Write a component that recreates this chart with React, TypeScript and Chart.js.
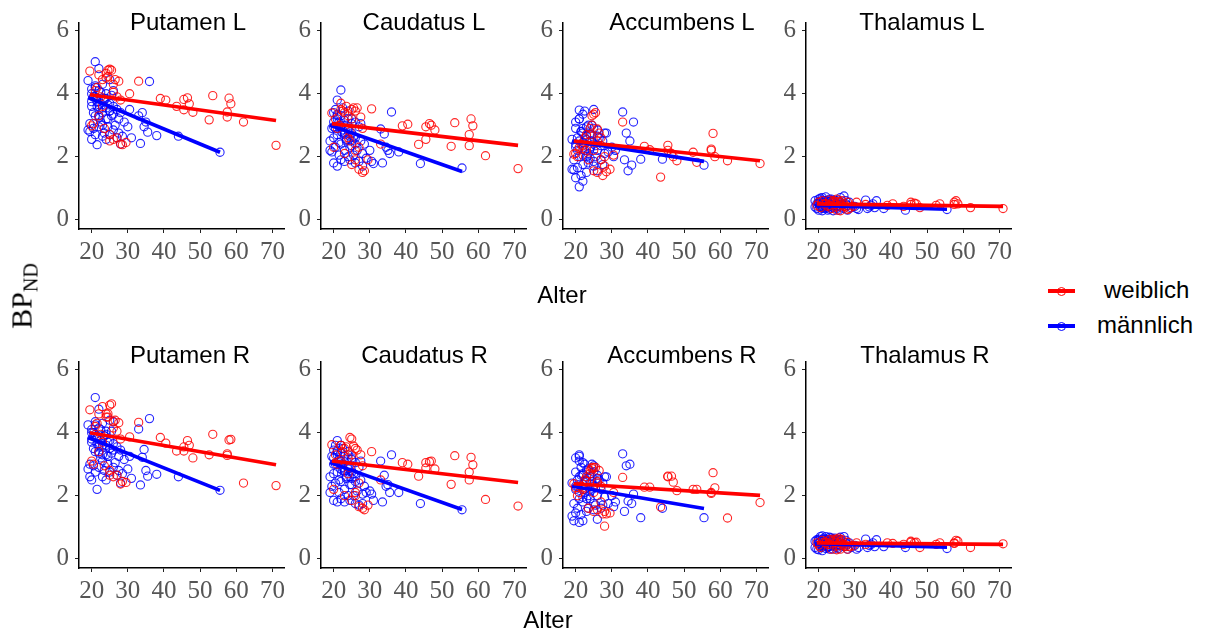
import React, { useEffect, useRef } from "react";
import { Chart, registerables } from "chart.js";

Chart.register(...registerables);

// ---------------- data ----------------
const regions = [
  "Putamen L", "Caudatus L", "Accumbens L", "Thalamus L",
  "Putamen R", "Caudatus R", "Accumbens R", "Thalamus R",
];
const seriesNames = ["weiblich", "männlich"];
const xTickValues = [20, 30, 40, 50, 60, 70];
const yTickValues = [0, 2, 4, 6];
const xLabel = "Alter";

const femaleAge = [
  19.5, 20, 20.5, 21, 22, 22.5, 23, 23.5, 24, 24.5,
  25, 25, 25.5, 26, 26, 26.5, 27, 27.5, 28, 28,
  28.5, 29.5, 30.5, 33, 39, 40.5, 43.5, 45.5, 45.5, 46.5,
  47, 48, 52.5, 53.5, 57.5, 57.5, 58, 58.5, 62, 71,
  21.5, 23, 24, 25, 26, 27, 22, 24.5,
];
const maleAge = [
  19, 19, 19.5, 19.5, 20, 20, 20, 20.5, 20.5, 21,
  21, 21, 21, 21.5, 21.5, 22, 22, 22, 22, 22.5,
  22.5, 23, 23, 23, 23.5, 23.5, 24, 24, 24, 24.5,
  24.5, 25, 25, 25, 25.5, 26, 26, 26, 26.5, 27,
  27, 27.5, 27.5, 28, 28, 28.5, 29, 30, 30.5, 31,
  33, 33.5, 34, 34.5, 35, 35.5, 36, 38, 44, 55.5,
  20, 20.5, 21, 21.5, 22, 22.5, 23, 23.5, 24, 24.5,
  25, 25.5, 26, 21, 22, 23, 24, 25, 20, 22,
];

const putamenLFemale = [
  4.72, 2.98, 3.05, 4.1, 4.6, 3.9, 4.45, 2.9, 4.5, 4.75,
  4.78, 2.5, 4.75, 4.3, 2.55, 4.45, 3.9, 4.4, 2.4, 3.8,
  2.38, 2.45, 4.0, 4.4, 3.85, 3.8, 3.6, 3.82, 3.49, 3.87,
  3.68, 3.41, 3.17, 3.94, 3.42, 3.26, 3.86, 3.68, 3.1, 2.36,
  4.2, 3.6, 4.65, 2.7, 4.05, 2.6, 3.3, 4.55,
];
const putamenLMale = [
  2.85, 4.42, 3.05, 2.8, 3.75, 2.55, 4.15, 3.4, 2.9, 5.02,
  3.9, 2.7, 4.25, 3.6, 2.38, 4.8, 3.3, 4.1, 2.95, 3.7,
  3.1, 4.3, 2.65, 3.55, 3.85, 2.75, 4.0, 3.2, 2.55, 3.65,
  2.95, 4.45, 3.45, 2.7, 3.3, 4.1, 2.85, 3.6, 3.0, 3.5,
  2.6, 3.2, 2.75, 3.4, 2.4, 2.65, 3.1, 2.95, 3.5, 2.6,
  3.3, 2.42, 3.4, 2.95, 3.1, 2.78, 4.39, 2.67, 2.65, 2.14,
  3.6, 3.9, 3.3, 3.75, 3.5, 4.05, 3.4, 3.8, 3.55, 3.2,
  3.7, 3.95, 3.35, 4.2, 3.65, 3.0, 3.85, 3.45, 4.0, 3.25,
];
const caudatusLFemale = [
  3.39, 2.3, 3.2, 2.9, 3.7, 3.45, 2.1, 3.6, 3.3, 2.5,
  3.5, 1.75, 3.55, 3.45, 2.2, 3.55, 1.6, 3.26, 1.5, 2.9,
  1.55, 1.9, 3.52, 2.4, 2.98, 3.03, 2.39, 2.55, 2.95, 3.05,
  3.0, 2.85, 2.33, 3.08, 2.7, 2.35, 3.2, 2.98, 2.03, 1.62,
  3.0, 3.4, 2.6, 3.2, 1.9, 2.3, 3.5, 2.8,
];
const caudatusLMale = [
  2.2, 2.5, 2.9, 2.15, 3.4, 1.8, 2.95, 3.5, 2.3, 3.2,
  1.7, 2.7, 3.8, 2.05, 3.1, 4.12, 2.4, 3.3, 1.9, 2.85,
  3.55, 2.2, 2.75, 1.85, 3.0, 2.5, 3.45, 2.0, 2.9, 2.65,
  1.9, 3.2, 2.35, 2.75, 2.05, 3.1, 1.8, 2.6, 2.2, 2.95,
  1.85, 2.5, 3.05, 2.1, 1.7, 2.4, 1.95, 2.2, 1.85, 1.78,
  2.88, 1.8, 2.72, 2.3, 2.2, 2.1, 3.42, 2.15, 1.78, 1.64,
  2.6, 2.9, 3.3, 2.45, 3.0, 2.75, 3.15, 2.55, 2.85, 2.3,
  3.05, 2.65, 2.4, 3.35, 2.95, 2.7, 3.2, 2.5, 3.1, 2.8,
];
const accumbensLFemale = [
  2.08, 2.1, 2.0, 2.3, 2.25, 2.6, 2.2, 1.9, 2.7, 3.3,
  3.35, 1.55, 3.4, 2.88, 1.5, 2.75, 2.6, 1.4, 2.0, 1.7,
  1.52, 1.6, 2.05, 3.1, 2.33, 2.22, 1.35, 2.36, 2.2, 2.1,
  2.0, 1.87, 2.14, 1.82, 2.2, 2.24, 2.74, 2.0, 1.87, 1.78,
  2.4, 2.7, 2.9, 2.2, 2.5, 1.9, 2.35, 3.0,
];
const accumbensLMale = [
  1.6, 2.55, 1.58, 1.9, 2.9, 1.33, 3.1, 2.2, 1.65, 3.48,
  2.5, 1.04, 3.2, 1.4, 2.8, 3.35, 1.75, 2.9, 1.22, 2.4,
  3.45, 2.0, 1.5, 2.65, 3.0, 1.8, 2.3, 2.7, 1.95, 2.5,
  3.0, 1.7, 3.5, 2.4, 2.0, 2.85, 1.55, 2.2, 2.6, 2.35,
  1.9, 2.5, 1.75, 2.75, 2.1, 2.75, 2.15, 2.3, 2.0, 2.2,
  3.42, 1.9, 2.75, 1.55, 2.5, 1.73, 3.1, 1.92, 1.92, 1.73,
  2.3, 2.6, 2.0, 2.8, 2.45, 2.2, 2.95, 2.1, 2.5, 2.7,
  1.85, 2.35, 2.65, 3.2, 2.05, 2.55, 2.25, 2.9, 2.4, 2.75,
];
const thalamusLFemale = [
  0.45, 0.55, 0.38, 0.6, 0.5, 0.42, 0.62, 0.35, 0.55, 0.48,
  0.65, 0.3, 0.58, 0.45, 0.28, 0.6, 0.5, 0.4, 0.32, 0.55,
  0.35, 0.42, 0.55, 0.48, 0.45, 0.5, 0.42, 0.55, 0.48, 0.52,
  0.5, 0.38, 0.45, 0.5, 0.55, 0.48, 0.6, 0.5, 0.38, 0.35,
  0.5, 0.45, 0.6, 0.4, 0.55, 0.42, 0.5, 0.58,
];
const thalamusLMale = [
  0.4, 0.6, 0.35, 0.5, 0.65, 0.3, 0.55, 0.68, 0.42, 0.7,
  0.38, 0.62, 0.28, 0.55, 0.45, 0.72, 0.35, 0.6, 0.5, 0.3,
  0.58, 0.42, 0.65, 0.33, 0.5, 0.6, 0.38, 0.55, 0.28, 0.45,
  0.62, 0.35, 0.5, 0.42, 0.3, 0.55, 0.7, 0.4, 0.48, 0.75,
  0.35, 0.5, 0.6, 0.3, 0.45, 0.55, 0.38, 0.42, 0.35, 0.32,
  0.62, 0.35, 0.4, 0.45, 0.5, 0.38, 0.6, 0.35, 0.3, 0.32,
  0.5, 0.55, 0.42, 0.6, 0.48, 0.38, 0.52, 0.65, 0.45, 0.58,
  0.4, 0.62, 0.5, 0.35, 0.55, 0.47, 0.6, 0.44, 0.52, 0.4,
];
const putamenRFemale = [
  4.73, 3.1, 3.0, 4.2, 4.6, 3.95, 4.83, 2.95, 4.5, 4.6,
  4.88, 2.65, 4.92, 4.35, 2.6, 4.4, 4.05, 4.32, 2.37, 3.8,
  2.45, 2.42, 3.87, 4.33, 3.85, 3.67, 3.42, 3.42, 3.55, 3.75,
  3.6, 3.2, 3.3, 3.95, 3.28, 3.33, 3.77, 3.79, 2.4, 2.32,
  4.3, 3.7, 4.6, 2.8, 4.15, 2.65, 3.4, 4.5,
];
const putamenRMale = [
  2.85, 4.25, 3.0, 2.6, 3.8, 2.5, 4.1, 3.5, 2.95, 5.12,
  3.95, 2.75, 4.35, 3.65, 2.2, 4.75, 3.4, 4.15, 2.9, 3.75,
  3.2, 4.3, 2.6, 3.6, 3.9, 2.8, 4.05, 3.3, 2.5, 3.7,
  3.0, 4.4, 3.5, 2.75, 3.35, 4.35, 2.9, 3.65, 3.05, 3.55,
  2.65, 3.25, 2.8, 3.45, 2.4, 2.7, 3.15, 2.85, 3.25, 2.55,
  4.12, 2.34, 3.22, 3.47, 2.8, 2.62, 4.45, 2.68, 2.6, 2.17,
  3.7, 4.0, 3.4, 3.85, 3.55, 4.1, 3.3, 3.9, 3.6, 3.25,
  3.75, 4.05, 3.45, 4.25, 3.65, 3.1, 3.95, 3.5, 4.0, 3.35,
];
const caudatusRFemale = [
  3.62, 2.2, 3.3, 3.0, 3.6, 3.4, 2.0, 3.55, 3.2, 3.85,
  3.8, 1.85, 3.58, 3.5, 2.1, 3.45, 1.65, 3.3, 1.6, 2.95,
  1.55, 1.7, 3.4, 2.5, 3.05, 3.0, 2.62, 2.88, 3.05, 3.08,
  3.1, 2.85, 2.36, 3.27, 2.75, 2.5, 3.22, 2.98, 1.88, 1.67,
  3.1, 3.5, 2.7, 3.3, 2.0, 2.4, 3.6, 2.9,
];
const caudatusRMale = [
  2.1, 2.6, 3.25, 2.3, 3.45, 1.85, 3.0, 3.6, 2.4, 3.3,
  1.8, 2.75, 3.75, 2.1, 3.15, 3.6, 2.45, 3.35, 1.9, 2.9,
  3.5, 2.2, 2.8, 1.8, 3.1, 2.55, 3.4, 2.0, 2.85, 2.6,
  1.85, 3.2, 2.35, 2.75, 2.0, 3.05, 1.75, 2.6, 2.15, 2.9,
  1.7, 2.5, 3.1, 2.05, 1.75, 2.3, 2.1, 2.15, 2.05, 1.85,
  3.1, 1.8, 2.65, 2.3, 2.35, 2.1, 3.3, 2.1, 1.75, 1.55,
  2.7, 3.0, 3.4, 2.5, 3.1, 2.8, 3.25, 2.6, 2.9, 2.35,
  3.15, 2.7, 2.45, 3.45, 3.0, 2.75, 3.3, 2.55, 3.2, 2.85,
];
const accumbensRFemale = [
  2.38, 2.25, 2.0, 2.1, 2.2, 2.5, 2.45, 1.6, 2.7, 2.86,
  2.9, 1.5, 2.9, 2.45, 1.55, 2.8, 2.3, 1.42, 1.03, 1.5,
  1.42, 1.45, 2.1, 2.58, 2.27, 2.27, 1.64, 2.6, 2.62, 2.62,
  2.43, 2.16, 2.2, 2.2, 2.07, 2.1, 2.73, 2.25, 1.29, 1.78,
  2.3, 2.6, 2.8, 2.1, 2.4, 1.8, 2.25, 2.9,
];
const accumbensRMale = [
  1.35, 2.4, 1.2, 1.75, 2.75, 1.45, 3.2, 2.3, 1.6, 3.3,
  2.6, 1.15, 3.25, 1.4, 2.9, 3.05, 1.8, 2.7, 1.2, 2.2,
  3.0, 1.9, 1.5, 2.5, 2.85, 1.6, 2.2, 2.6, 1.9, 2.45,
  3.0, 1.55, 2.95, 2.3, 1.7, 2.65, 1.25, 2.0, 2.5, 2.2,
  1.6, 2.4, 1.7, 2.6, 1.95, 2.6, 1.75, 2.0, 1.65, 1.8,
  3.33, 1.5, 2.95, 1.83, 3.0, 1.75, 2.05, 1.3, 1.6, 1.3,
  2.2, 2.5, 1.9, 2.65, 2.35, 2.1, 2.8, 2.0, 2.4, 2.6,
  1.75, 2.25, 2.55, 3.1, 1.95, 2.45, 2.15, 2.75, 2.3, 2.65,
];
const thalamusRFemale = [
  0.5, 0.42, 0.35, 0.58, 0.52, 0.45, 0.6, 0.3, 0.55, 0.5,
  0.62, 0.28, 0.65, 0.48, 0.3, 0.6, 0.45, 0.38, 0.3, 0.52,
  0.38, 0.4, 0.5, 0.45, 0.5, 0.48, 0.45, 0.52, 0.55, 0.5,
  0.52, 0.35, 0.45, 0.5, 0.5, 0.48, 0.58, 0.55, 0.35, 0.47,
  0.52, 0.45, 0.62, 0.4, 0.55, 0.4, 0.5, 0.6,
];
const thalamusRMale = [
  0.35, 0.55, 0.3, 0.6, 0.62, 0.28, 0.58, 0.7, 0.4, 0.72,
  0.42, 0.6, 0.25, 0.65, 0.45, 0.7, 0.32, 0.62, 0.5, 0.35,
  0.6, 0.38, 0.68, 0.3, 0.52, 0.62, 0.4, 0.55, 0.3, 0.48,
  0.65, 0.35, 0.55, 0.4, 0.32, 0.6, 0.68, 0.42, 0.45, 0.7,
  0.38, 0.5, 0.58, 0.3, 0.45, 0.5, 0.35, 0.42, 0.3, 0.35,
  0.62, 0.35, 0.42, 0.45, 0.5, 0.38, 0.6, 0.38, 0.35, 0.32,
  0.48, 0.55, 0.4, 0.62, 0.5, 0.38, 0.55, 0.66, 0.45, 0.6,
  0.42, 0.6, 0.5, 0.36, 0.56, 0.46, 0.62, 0.44, 0.5, 0.42,
];

const femaleValues = [
  putamenLFemale, caudatusLFemale, accumbensLFemale, thalamusLFemale,
  putamenRFemale, caudatusRFemale, accumbensRFemale, thalamusRFemale,
];
const maleValues = [
  putamenLMale, caudatusLMale, accumbensLMale, thalamusLMale,
  putamenRMale, caudatusRMale, accumbensRMale, thalamusRMale,
];

// linear fit lines: value at first and last age
const femaleFitAge = [19.5, 71];
const maleFitAge = [19, 55.5];
const femaleFitStart = [3.97, 3.05, 2.5, 0.5, 4.0, 3.1, 2.38, 0.5];
const femaleFitEnd = [3.15, 2.36, 1.87, 0.42, 2.98, 2.42, 2.01, 0.45];
const maleFitStart = [3.88, 3.0, 2.5, 0.45, 3.85, 3.05, 2.3, 0.47];
const maleFitEnd = [2.14, 1.53, 1.85, 0.33, 2.17, 1.56, 1.59, 0.36];

// ---------------- layout / style ----------------
const RED = "#ff0000";
const BLUE = "#0000ff";
const AREA_LEFT = [79, 321, 563, 806];
const ROW_TOP = [23, 362];
const AREA_W = 205;
const AREA_H = 206;
const Y_AXIS_W = 40;
const X_AXIS_H = 40;
const PAD_TOP = 23;
const PAD_RIGHT = 8;
const CANVAS_W = Y_AXIS_W + AREA_W + PAD_RIGHT;
const CANVAS_H = PAD_TOP + AREA_H + X_AXIS_H;
const TITLE_CENTER = [
  [188, 424, 682, 922],
  [190, 424.5, 682, 925],
];
const TITLE_TOP = [9.7, 342.7];

const SANS = '"Liberation Sans", Arial, Helvetica, sans-serif';
const SERIF = '"Liberation Serif", "Times New Roman", serif';

function Panel({ index }: { index: number }) {
  const ref = useRef<HTMLCanvasElement | null>(null);
  const row = Math.floor(index / 4);
  const col = index % 4;

  useEffect(() => {
    if (!ref.current) return;
    const tickFont = { family: SERIF, size: 25 };
    const chart = new Chart(ref.current, {
      type: "scatter",
      data: {
        datasets: [
          {
            type: "line",
            label: seriesNames[0] + " fit",
            data: femaleFitAge.map((a, i) => ({
              x: a,
              y: i === 0 ? femaleFitStart[index] : femaleFitEnd[index],
            })),
            borderColor: RED,
            borderWidth: 3.6,
            pointRadius: 0,
            showLine: true,
            fill: false,
          } as any,
          {
            type: "line",
            label: seriesNames[1] + " fit",
            data: maleFitAge.map((a, i) => ({
              x: a,
              y: i === 0 ? maleFitStart[index] : maleFitEnd[index],
            })),
            borderColor: BLUE,
            borderWidth: 3.6,
            pointRadius: 0,
            showLine: true,
            fill: false,
          } as any,
          {
            label: seriesNames[0],
            data: femaleAge.map((a, i) => ({ x: a, y: femaleValues[index][i] })),
            pointStyle: "circle",
            pointRadius: 4.1,
            borderWidth: 1.1,
            borderColor: "rgba(255,0,0,0.85)",
            backgroundColor: "rgba(0,0,0,0)",
          },
          {
            label: seriesNames[1],
            data: maleAge.map((a, i) => ({ x: a, y: maleValues[index][i] })),
            pointStyle: "circle",
            pointRadius: 4.1,
            borderWidth: 1.1,
            borderColor: "rgba(0,0,255,0.85)",
            backgroundColor: "rgba(0,0,0,0)",
          },
        ],
      },
      options: {
        animation: false,
        responsive: false,
        events: [],
        layout: { padding: { top: PAD_TOP, right: PAD_RIGHT, left: 0, bottom: 0 } },
        plugins: {
          legend: { display: false },
          tooltip: { enabled: false },
          title: { display: false },
        },
        scales: {
          x: {
            type: "linear",
            min: 16.5,
            max: 73.2,
            afterBuildTicks: (s: any) => {
              s.ticks = xTickValues.map((v) => ({ value: v }));
            },
            afterFit: (s: any) => {
              s.height = X_AXIS_H;
              s.paddingLeft = 0;
              s.paddingRight = 0;
            },
            grid: {
              display: true,
              drawOnChartArea: false,
              drawTicks: true,
              tickLength: 4,
              color: "#222",
              lineWidth: 1,
            },
            border: { display: true, color: "#000", width: 1.5 },
            ticks: {
              font: tickFont,
              color: "#555555",
              padding: 4,
              maxRotation: 0,
              autoSkip: false,
              callback: (v: any) => String(v),
            },
          },
          y: {
            type: "linear",
            min: -0.3,
            max: 6.25,
            afterBuildTicks: (s: any) => {
              s.ticks = yTickValues.map((v) => ({ value: v }));
            },
            afterFit: (s: any) => {
              s.width = Y_AXIS_W;
              s.paddingTop = 0;
              s.paddingBottom = 0;
            },
            grid: {
              display: true,
              drawOnChartArea: false,
              drawTicks: true,
              tickLength: 4,
              color: "#222",
              lineWidth: 1,
            },
            border: { display: true, color: "#000", width: 1.5 },
            ticks: {
              font: tickFont,
              color: "#555555",
              padding: 6,
              autoSkip: false,
              callback: (v: any) => String(v),
            },
          },
        },
      } as any,
    });
    return () => chart.destroy();
  }, [index]);

  return (
    <>
      <canvas
        ref={ref}
        width={CANVAS_W}
        height={CANVAS_H}
        style={{
          position: "absolute",
          left: AREA_LEFT[col] - Y_AXIS_W,
          top: ROW_TOP[row] - PAD_TOP,
          width: CANVAS_W,
          height: CANVAS_H,
        }}
      />
      <div
        style={{
          position: "absolute",
          left: TITLE_CENTER[row][col],
          top: TITLE_TOP[row],
          transform: "translateX(-50%)",
          font: `24px ${SANS}`,
          lineHeight: "24px",
          whiteSpace: "nowrap",
          color: "#000",
        }}
      >
        {regions[index]}
      </div>
    </>
  );
}

function Label({ text, x, top }: { text: string; x: number; top: number }) {
  return (
    <div
      style={{
        position: "absolute",
        left: x,
        top,
        transform: "translateX(-50%)",
        font: `24px ${SANS}`,
        lineHeight: "24px",
        whiteSpace: "nowrap",
        color: "#000",
      }}
    >
      {text}
    </div>
  );
}

function LegendItem({ color, text, y, textLeft }: { color: string; text: string; y: number; textLeft: number }) {
  return (
    <>
      <div
        style={{
          position: "absolute",
          left: 1048,
          top: y - 2,
          width: 27,
          height: 4,
          background: color,
        }}
      />
      <div
        style={{
          position: "absolute",
          left: 1061.5 - 4.5,
          top: y - 4.5,
          width: 7,
          height: 7,
          border: `1px solid ${color}`,
          borderRadius: "50%",
          boxSizing: "content-box",
        }}
      />
      <div
        style={{
          position: "absolute",
          left: textLeft,
          top: y - 13,
          font: `24px ${SANS}`,
          lineHeight: "24px",
          whiteSpace: "nowrap",
          color: "#000",
        }}
      >
        {text}
      </div>
    </>
  );
}

export default function App() {
  return (
    <div
      style={{
        position: "absolute",
        left: 0,
        top: 0,
        width: 1206,
        height: 635,
        overflow: "hidden",
        background: "#fff",
      }}
    >
      {regions.map((_, i) => (
        <Panel key={i} index={i} />
      ))}
      <Label text={xLabel} x={562} top={282.7} />
      <Label text={xLabel} x={548} top={607.7} />
      <div
        style={{
          position: "absolute",
          left: 26,
          top: 296,
          transform: "translate(-50%, -50%) rotate(-90deg)",
          fontFamily: SERIF,
          fontSize: 30,
          lineHeight: "32px",
          whiteSpace: "nowrap",
          color: "#000",
        }}
      >
        BP<sub style={{ fontSize: 20, verticalAlign: "-6px" }}>ND</sub>
      </div>
      <LegendItem color={RED} text={seriesNames[0]} y={291} textLeft={1104} />
      <LegendItem color={BLUE} text={seriesNames[1]} y={326} textLeft={1097} />
    </div>
  );
}
